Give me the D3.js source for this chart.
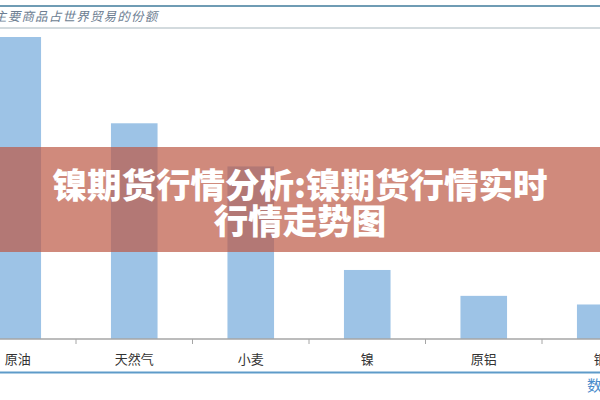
<!DOCTYPE html>
<html><head><meta charset="utf-8">
<script src="https://cdn.jsdelivr.net/npm/d3@7"></script>
<style>
html,body{margin:0;padding:0;background:#fff;overflow:hidden;}
svg{display:block;}
</style></head>
<body>
<svg id="chart" width="600" height="400"></svg>
<script>
const categories = ["原油", "天然气", "小麦", "镍", "原铝", "铜"];
const shares = [10.5, 7.5, 6.0, 2.4, 1.5, 1.2];
const chartTitle = "主要商品占世界贸易的份额";
const sourceText = "数据来源：";
const bannerLines = ["镍期货行情分析:镍期货行情实时", "行情走势图"];

const svg = d3.select("#chart");
const W = 600, H = 400;
const font = "'Noto Sans CJK SC','Noto Sans',sans-serif";

// header lines
svg.append("line").attr("x1",0).attr("x2",W).attr("y1",6).attr("y2",6)
  .attr("stroke","#6f9cb4").attr("stroke-width",2);
svg.append("text").attr("x",-6).attr("y",21).text(chartTitle)
  .attr("font-family",font).attr("font-size",12.5).attr("font-style","italic")
  .attr("letter-spacing",1.2).attr("fill","#6d7e92");
svg.append("line").attr("x1",0).attr("x2",W).attr("y1",28).attr("y2",28)
  .attr("stroke","#a7b6bd").attr("stroke-width",1);

// scales
const x = d3.scaleBand().domain(categories).range([-40.5, 658.5]).paddingInner(0.6).paddingOuter(0.3);
const y = d3.scaleLinear().domain([0, 10.5]).range([339, 37]);

svg.append("g").selectAll("rect").data(categories).join("rect")
  .attr("x", d => x(d)).attr("width", x.bandwidth())
  .attr("y", (d,i) => y(shares[i])).attr("height", (d,i) => y(0) - y(shares[i]))
  .attr("fill","#9dc3e6");

// axis
const step = x.step();
const axis = svg.append("g").attr("transform","translate(0,339)");
axis.append("line").attr("x1",0).attr("x2",W).attr("stroke","#a6a6a6").attr("stroke-width",1.5);
axis.selectAll(".tk").data(categories.slice(1)).join("line")
  .attr("x1", d => x(d) - (step - x.bandwidth())/2).attr("x2", d => x(d) - (step - x.bandwidth())/2)
  .attr("y1",0).attr("y2",5).attr("stroke","#a6a6a6").attr("stroke-width",1);
axis.selectAll(".lb").data(categories).join("text")
  .attr("x", d => x(d) + x.bandwidth()/2).attr("y", 25).attr("text-anchor","middle")
  .attr("font-family",font).attr("font-size",13).attr("fill","#333").text(d => d);

svg.append("line").attr("x1",0).attr("x2",W).attr("y1",372.5).attr("y2",372.5)
  .attr("stroke","#5e9bc9").attr("stroke-width",2);
svg.append("text").attr("x",587).attr("y",391).text(sourceText)
  .attr("font-family",font).attr("font-size",15).attr("fill","#4a8ccc");

// banner overlay
svg.append("rect").attr("x",0).attr("y",147).attr("width",W).attr("height",105)
  .attr("fill","rgb(188,88,68)").attr("fill-opacity",0.7);
svg.selectAll(".bn").data(bannerLines).join("text")
  .attr("x",300).attr("y",(d,i)=>198+i*36).attr("text-anchor","middle")
  .attr("font-family",font).attr("font-weight",900).attr("font-size",34.5)
  .attr("fill","#fff").text(d=>d);
</script>
</body></html>
